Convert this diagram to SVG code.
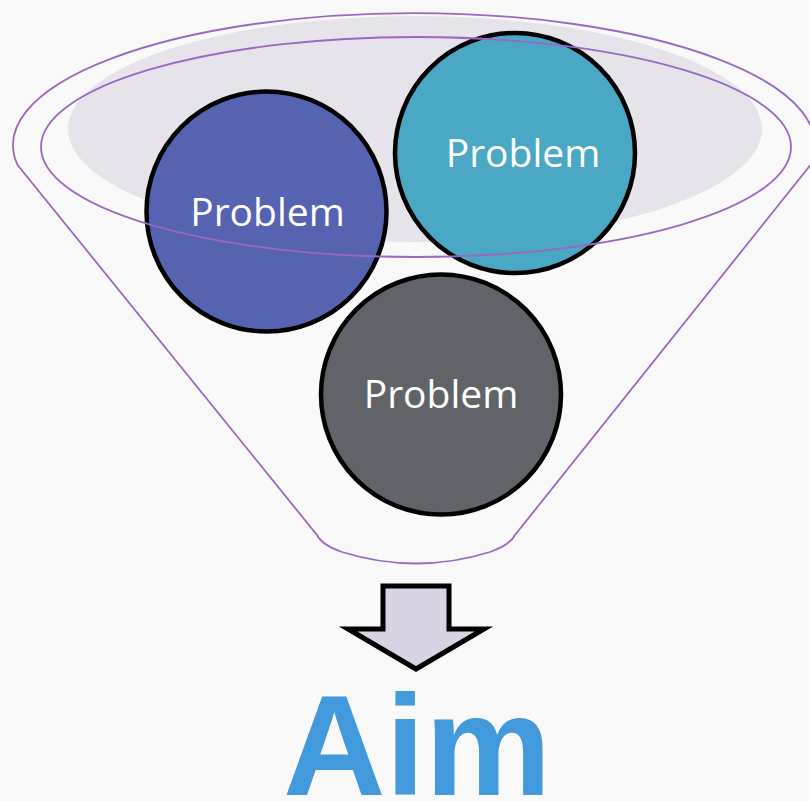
<svg xmlns="http://www.w3.org/2000/svg" width="810" height="801" viewBox="0 0 810 801">
  <style>
    .rim { fill: none; stroke: #9a68c2; stroke-width: 1.8; }
    .ball { stroke: #000; stroke-width: 4.5; }
    .label { font-family: "Open Sans", "Liberation Sans", sans-serif; font-size: 39px; fill: #ffffff; text-anchor: middle; }
    .aim { font-family: "Liberation Sans", Arial, sans-serif; font-weight: bold; font-size: 142px; fill: #4299db; }
  </style>
  <rect width="810" height="801" fill="#f9f9f9"/>

  <!-- funnel body: shaded mouth and outer outline -->
  <g id="funnel">
    <ellipse cx="415" cy="129" rx="347" ry="113" fill="#e6e3ea"/>
    <path class="rim" d="M 17.6 165 A 401 132 0 1 1 810.4 165 L 515 535 Q 510 545 490 552 Q 416 575 342 552 Q 322 545 317 535 Z"/>
  </g>

  <!-- problems -->
  <g id="problem-blue">
    <circle class="ball" cx="266.5" cy="211.5" r="120" fill="#5563b0"/>
    <text class="label" x="267.5" y="226">Problem</text>
  </g>
  <g id="problem-teal">
    <circle class="ball" cx="515" cy="153" r="120" fill="#4aa8c4"/>
    <text class="label" x="523" y="167">Problem</text>
  </g>
  <g id="problem-gray">
    <circle class="ball" cx="441" cy="394.5" r="120" fill="#606469"/>
    <text class="label" x="441" y="408">Problem</text>
  </g>

  <!-- inner rim of the funnel mouth, drawn over the problems -->
  <g id="funnel-rim">
    <ellipse class="rim" cx="416" cy="147" rx="375" ry="110"/>
  </g>

  <!-- flow from funnel to aim -->
  <g id="connectors">
    <path d="M 383 586 L 449 586 L 449 629 L 484 629 L 416 669 L 348 629 L 383 629 Z" fill="#d9d3e3" stroke="#000" stroke-width="5" stroke-linejoin="miter"/>
  </g>

  <g id="aim">
    <text class="aim" x="283" y="795">Aim</text>
  </g>
</svg>
